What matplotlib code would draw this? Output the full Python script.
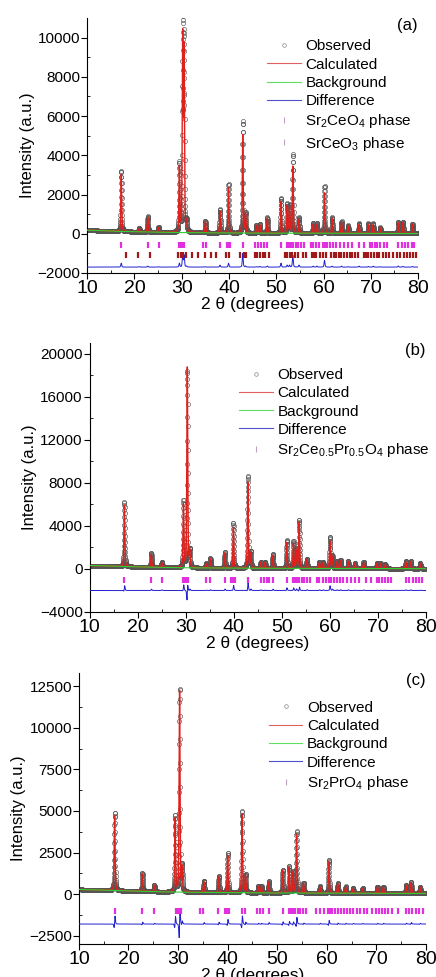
import matplotlib
matplotlib.use("Agg")
import matplotlib.pyplot as plt
import numpy as np
from matplotlib.lines import Line2D

plt.rcParams['font.family'] = ['Liberation Sans', 'DejaVu Sans']
plt.rcParams['mathtext.fontset'] = 'custom'
plt.rcParams['mathtext.rm'] = 'Liberation Sans'
plt.rcParams['mathtext.it'] = 'Liberation Sans'

# ---- panel (a): Sr2CeO4 + SrCeO3 ----
a_pos = [17.2, 21.0, 22.8, 25.1, 29.5, 30.2, 30.5, 31.0, 35.0, 38.1, 39.9, 42.9, 43.5,
         45.8, 46.5, 48.1, 51.0, 52.3, 52.8, 53.5, 54.8, 57.8, 58.6, 60.2, 61.8, 63.8,
         65.2, 67.5, 69.5, 70.5, 72.0, 75.8, 76.8, 78.8]
a_calc = [2900, 180, 750, 230, 3300, 9900, 9200, 450, 580, 1100, 2300, 5000, 950,
          380, 420, 750, 1600, 1400, 1300, 3400, 700, 450, 450, 2050, 750, 550,
          380, 450, 470, 450, 280, 550, 560, 470]
a_obs = [3100, 200, 800, 250, 3500, 10500, 9800, 500, 600, 1200, 2500, 5700, 1000,
         400, 450, 800, 1800, 1500, 1400, 4000, 800, 500, 500, 2400, 800, 600,
         400, 500, 500, 500, 300, 600, 600, 500]
a_bg_x = [10, 14, 17, 25, 30, 40, 50, 60, 70, 80]
a_bg_y = [180, 150, 120, 80, 60, 40, 30, 30, 20, 10]
a_phase1 = [17.2, 22.8, 25.1, 29.5, 29.8, 30.2, 30.5, 34.5, 35.1, 38.1, 39.5, 39.9, 40.2,
            42.9, 45.6, 46.2, 46.8, 47.3, 48.1, 51.0, 52.3, 52.7, 53.2, 53.6, 54.1, 54.6,
            55.2, 55.9, 57.3, 57.8, 58.5, 59.1, 59.8, 60.2, 60.8, 61.4, 62.0, 62.7, 63.5,
            64.3, 65.2, 66.0, 67.5, 68.6, 69.8, 70.3, 70.8, 71.4, 72.0, 72.8, 73.5, 75.8,
            76.5, 77.2, 77.9, 78.6, 79.2]
a_phase2 = [18.3, 20.8, 23.3, 29.3, 29.8, 30.3, 30.9, 32.1, 33.5, 34.9, 36.2, 37.3, 39.3,
            40.0, 42.4, 43.1, 43.5, 45.5, 46.0, 46.6, 47.1, 47.6, 48.5, 51.8, 52.3, 52.9,
            53.4, 53.9, 54.6, 55.6, 56.2, 57.5, 58.0, 58.4, 59.3, 59.9, 60.5, 61.5, 62.1,
            62.6, 63.2, 63.7, 64.3, 65.0, 65.5, 66.0, 66.6, 67.3, 68.5, 69.0, 69.4, 70.0,
            70.6, 71.2, 71.8, 72.5, 73.2, 73.8, 74.6, 75.5, 76.2, 77.0, 77.6, 78.3, 79.0,
            79.6]

# ---- panel (b): Sr2Ce0.5Pr0.5O4 ----
b_pos = [17.2, 22.8, 25.0, 29.5, 30.3, 30.8, 34.2, 35.1, 38.1, 39.9, 42.9, 43.5, 45.6,
         46.5, 48.1, 51.0, 52.4, 53.0, 53.6, 55.2, 57.8, 58.6, 60.0, 60.5, 61.5, 62.2,
         63.8, 65.2, 67.0, 69.8, 70.5, 71.5, 75.8, 76.8, 78.8]
b_calc = [5700, 1200, 450, 5800, 18600, 1400, 380, 850, 1400, 3800, 8000, 1400, 550,
          580, 1200, 2400, 2300, 1700, 4300, 850, 550, 550, 2500, 1100, 650, 750,
          650, 480, 560, 480, 480, 380, 650, 650, 480]
b_obs = [6000, 1300, 500, 6200, 18300, 1500, 400, 900, 1500, 4200, 8600, 1500, 600,
         600, 1300, 2600, 2500, 1800, 4500, 900, 600, 600, 2900, 1200, 700, 800,
         700, 500, 600, 500, 500, 400, 700, 700, 500]
b_bg_x = [10, 14, 17, 25, 30, 40, 50, 60, 70, 80]
b_bg_y = [320, 280, 230, 150, 110, 80, 60, 50, 40, 30]
b_phase = [17.2, 22.8, 25.1, 29.5, 29.8, 30.2, 30.5, 34.2, 35.1, 38.1, 39.5, 39.9, 40.2,
           42.9, 45.6, 46.2, 46.8, 47.3, 48.1, 51.0, 52.3, 52.7, 53.2, 53.6, 54.1, 54.6,
           55.2, 55.9, 57.3, 57.8, 58.5, 59.1, 59.8, 60.2, 60.8, 61.4, 62.0, 62.7, 63.5,
           64.3, 65.2, 66.0, 67.5, 68.6, 69.8, 70.3, 70.8, 71.4, 72.0, 72.8, 75.8, 76.5,
           77.2, 77.9, 78.6, 79.2]

# ---- panel (c): Sr2PrO4 ----
c_pos = [17.2, 22.8, 25.2, 29.4, 30.3, 30.8, 35.2, 38.2, 40.0, 42.9, 43.6, 46.2, 46.8,
         48.3, 51.1, 52.4, 53.2, 53.9, 55.3, 58.6, 60.4, 62.2, 63.8, 65.3, 67.2, 70.2,
         71.4, 76.0, 77.0, 78.8]
c_calc = [4500, 1050, 380, 4400, 12100, 1400, 650, 950, 2250, 4700, 1050, 380, 380,
          650, 1350, 1550, 1250, 3500, 580, 380, 1900, 580, 380, 280, 280, 380,
          380, 480, 650, 380]
c_obs = [4700, 1100, 400, 4600, 12200, 1500, 700, 1000, 2400, 4900, 1100, 400, 400,
         700, 1400, 1600, 1300, 3700, 600, 400, 2000, 600, 400, 300, 300, 400,
         400, 500, 700, 400]
c_bg_x = [10, 14, 17, 25, 30, 40, 50, 60, 70, 80]
c_bg_y = [280, 250, 220, 150, 120, 90, 70, 60, 50, 40]
c_phase = [17.2, 22.8, 25.1, 29.5, 29.8, 30.2, 30.5, 34.5, 35.1, 38.1, 39.5, 39.9, 40.2,
           42.9, 43.5, 45.9, 46.5, 47.1, 48.3, 51.1, 52.4, 52.8, 53.2, 53.6, 54.1, 54.6,
           55.2, 55.9, 57.8, 58.6, 59.4, 60.2, 60.6, 61.1, 61.6, 62.2, 62.8, 63.4, 64.0,
           64.6, 65.3, 66.0, 66.7, 67.4, 68.2, 69.2, 70.0, 70.6, 71.2, 71.8, 72.4, 73.2,
           74.3, 75.9, 76.5, 77.2, 77.9, 78.6, 79.3]


def profile(x, pos, heights, bg_x, bg_y, shift=0.0, fwhm=0.22):
    """background + pseudo-Voigt peaks"""
    y = np.interp(x, bg_x, bg_y)
    for p, h in zip(pos, heights):
        d = (x - p - shift) / (fwhm / 2)
        y = y + h * (0.6 * np.exp(-np.log(2) * d ** 2) + 0.4 / (1 + d ** 2))
    return y


def draw_panel(ax, pos, calc_h, obs_h, bg_x, bg_y, phases, phase_y, phase_colors,
               phase_labels, diff_off, shift, ylim, yticks, label, legend_anchor):
    x = np.arange(10, 80.001, 0.02)
    calc = profile(x, pos, calc_h, bg_x, bg_y)
    obs = profile(x, pos, obs_h, bg_x, bg_y, shift=shift)

    ax.plot(x, obs, 'o', ms=3.0, mfc='none', mec='#555555', mew=0.45, zorder=2)
    ax.plot(x, calc, color='#e0201c', lw=1.0, zorder=3)
    ax.plot(bg_x, bg_y, color='#30d030', lw=0.8, zorder=4)
    ax.plot(x, obs - calc + diff_off, color='#2020d0', lw=0.7, zorder=3)
    for ph, py, pc in zip(phases, phase_y, phase_colors):
        ax.plot(ph, [py] * len(ph), '|', color=pc, ms=5, mew=1.6, zorder=3)

    ax.set_xlim(10, 80)
    ax.set_ylim(*ylim)
    ax.set_yticks(yticks)
    ax.set_xticks(range(10, 81, 10))
    ax.set_xticks(range(15, 80, 10), minor=True)
    ax.set_yticks([(yticks[i] + yticks[i + 1]) / 2 for i in range(len(yticks) - 1)], minor=True)
    for s in ('top', 'right'):
        ax.spines[s].set_visible(False)
    ax.tick_params(axis='x', which='major', labelsize=14, direction='out', length=4, pad=1)
    ax.tick_params(axis='y', which='major', labelsize=11, direction='out', length=4, pad=1)
    ax.tick_params(which='minor', direction='in', length=2.5)
    ax.set_xlabel('2 θ (degrees)', fontsize=12.5, labelpad=0)
    ax.set_ylabel('Intensity (a.u.)', fontsize=12, labelpad=2)

    handles = [Line2D([], [], ls='none', marker='o', ms=2.6, mfc='none', mec='#888888', mew=0.5),
               Line2D([], [], color='#e06060', lw=0.8),
               Line2D([], [], color='#60e060', lw=0.8),
               Line2D([], [], color='#5050d0', lw=0.8)]
    handles += [Line2D([], [], ls='none', marker='|', ms=4, mew=0.8, color='#c0a0c0')
                for _ in phase_labels]
    labels = ['Observed', 'Calculated', 'Background', 'Difference'] + phase_labels
    ax.legend(handles, labels, loc='upper right', bbox_to_anchor=legend_anchor,
              frameon=False, fontsize=11, handlelength=2.2, handletextpad=0.3,
              labelspacing=0.28, borderaxespad=0)
    ax.text(1.0, 1.0, label, transform=ax.transAxes, fontsize=12, ha='right', va='top')


fig = plt.figure(figsize=(4.36, 9.77), dpi=100)

ax_a = fig.add_axes([0.200, 0.7206, 0.759, 0.2610])
draw_panel(ax_a, a_pos, a_calc, a_obs, a_bg_x, a_bg_y, [a_phase1, a_phase2],
           [-580, -1080], ['#e030e0', '#a01818'],
           [r'Sr$_2$CeO$_4$ phase', r'SrCeO$_3$ phase'],
           -1700, 0.0, (-2000, 11000), [-2000, 0, 2000, 4000, 6000, 8000, 10000],
           '(a)', (1.0, 0.94))

ax_b = fig.add_axes([0.206, 0.3736, 0.771, 0.2753])
draw_panel(ax_b, b_pos, b_calc, b_obs, b_bg_x, b_bg_y, [b_phase], [-1050], ['#e030e0'],
           [r'Sr$_2$Ce$_{0.5}$Pr$_{0.5}$O$_4$ phase'],
           -2000, 0.006, (-4000, 21000), [-4000, 0, 4000, 8000, 12000, 16000, 20000],
           '(b)', (1.03, 0.93))

ax_c = fig.add_axes([0.181, 0.0338, 0.796, 0.2774])
draw_panel(ax_c, c_pos, c_calc, c_obs, c_bg_x, c_bg_y, [c_phase], [-1000], ['#e030e0'],
           [r'Sr$_2$PrO$_4$ phase'],
           -1800, 0.012, (-3000, 13300), [-2500, 0, 2500, 5000, 7500, 10000, 12500],
           '(c)', (0.97, 0.92))

fig.savefig('out.png', dpi=100)
